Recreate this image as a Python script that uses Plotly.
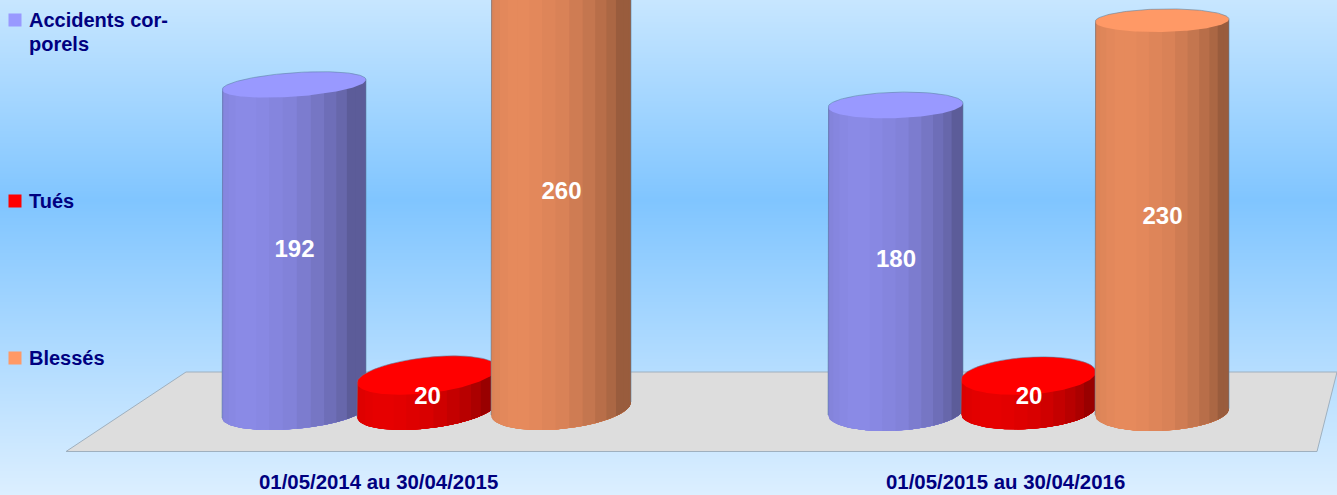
import numpy as np
import plotly.graph_objects as go

# ---- data ----
PERIODS = ["01/05/2014 au 30/04/2015", "01/05/2015 au 30/04/2016"]
SERIES = ["Accidents corporels", "Tués", "Blessés"]
LEGEND_LINES = [["Accidents cor-", "porels"], ["Tués"], ["Blessés"]]
ACCIDENTS = [192, 180]
TUES = [20, 20]
BLESSES = [260, 230]

# ---- styling ----
TOP_COLORS = [(0x99, 0x99, 0xff), (0xff, 0x00, 0x00), (0xff, 0x99, 0x66)]
FACET_SHADE = [.84, .86, .875, .89, .90, .90, .89, .87, .85, .81, .77, .72, .67, .60, .60, .60]
NAVY = "#000080"
FONT = "Liberation Sans"
W, H = 1337, 495
PX_PER_UNIT = 1.71
ZERO_PX = 418


def v(px):
    return (ZERO_PX - np.asarray(px, dtype=float)) / PX_PER_UNIT


def rgb(c, f=1.0):
    return "rgb(%d,%d,%d)" % tuple(round(x * f) for x in c)


def poly(xs, ys, color):
    return go.Scatter(x=list(xs), y=list(ys), mode="lines", fill="toself", fillcolor=color,
                      line=dict(width=0, color=color), hoverinfo="skip", showlegend=False)


# left x, right x, base-left px, top tilt, bottom tilt, top & bottom half-heights, facet phase (deg)
GEOM = {
    (0, 0): (222, 366, 418, -10, -12, 12, 17, 9),
    (1, 0): (357, 497, 417, -15, -15, 18, 19, 6),
    (2, 0): (491, 631, 415, -8, -13, 12, 20.5, 4.5),
    (0, 1): (828, 963, 415, -4, -6.6, 13, 19, 0),
    (1, 1): (961, 1096, 414, -8, -8, 18.6, 19, 1),
    (2, 1): (1095, 1229, 415, -2.5, -6.4, 11.5, 19, 0),
}
VALUES = [ACCIDENTS, TUES, BLESSES]

fig = go.Figure()

# background gradient
bg_px = np.arange(-10, H + 15, 5)
stops = [(0, "#c7e6ff"), (200 / H, "#80c5ff"), (1, "#dcefff")]
fig.add_trace(go.Heatmap(x=[-10, W + 10], y=v(bg_px).tolist(),
                         z=[[float(np.clip(p / H, 0, 1))] * 2 for p in bg_px],
                         zmin=0, zmax=1, colorscale=stops, zsmooth="best",
                         showscale=False, hoverinfo="skip"))

# floor
floor_x = [66, 186, 1337, 1317, 66]
floor_y = v([451.5, 372, 372, 451.5, 451.5])
fig.add_trace(go.Scatter(x=floor_x, y=floor_y.tolist(), mode="lines", fill="toself", fillcolor="#dddddd",
                         line=dict(width=1, color="#9fb0bf"), hoverinfo="skip", showlegend=False))


def cylinder(s, g):
    value = VALUES[s][g]
    xl, xr, base, tilt_t, tilt_b, bt, bb, phase = GEOM[(s, g)]
    color = TOP_COLORS[s]
    cx, a = (xl + xr) / 2, (xr - xl) / 2
    slope_t = tilt_t / (xr - xl)
    slope_b = tilt_b / (xr - xl)
    height_px = value * PX_PER_UNIT
    yc_bot = base + tilt_b / 2
    yc_top = base + tilt_t / 2 - height_px
    out = []

    def lower(x):
        x = np.asarray(x)
        t = (x - cx) / a
        return yc_bot + slope_b * (x - cx) + bb * np.sqrt(np.clip(1 - t * t, 0, 1))

    def mid_top(x):
        return yc_top + slope_t * (np.asarray(x) - cx)

    # facets, each painted to the right edge so that no seams appear
    n = len(FACET_SHADE)
    for i, shade in enumerate(FACET_SHADE):
        ang = 0.0 if i == 0 else np.pi * i / n - np.radians(phase)
        x0 = cx - a * np.cos(ang)
        xs = np.linspace(x0, xr, 80)
        px = np.concatenate([mid_top(xs), lower(xs)[::-1]])
        ax = np.concatenate([xs, xs[::-1]])
        out.append(poly(ax, v(px), rgb(color, shade)))

    # top ellipse
    th = np.linspace(0, 2 * np.pi, 181)
    ex = cx + a * np.cos(th)
    ey = yc_top + slope_t * (ex - cx) - bt * np.sin(th)
    out.append(poly(ex, v(ey), rgb(color)))

    # thin outline: sides and rear arc
    th2 = np.linspace(np.pi, 0, 91)
    ax = cx + a * np.cos(th2)
    ay = yc_top + slope_t * (ax - cx) - bt * np.sin(th2)
    ox = np.concatenate([[xl], ax, [xr]])
    oy = np.concatenate([[lower(xl)], ay, [lower(xr)]])
    out.append(go.Scatter(x=ox.tolist(), y=v(oy).tolist(), mode="lines",
                          line=dict(width=1, color="rgba(90,130,160,0.55)"),
                          hoverinfo="skip", showlegend=False))
    return out


for g in range(len(PERIODS)):
    for s in (0, 1, 2):
        for tr in cylinder(s, g):
            fig.add_trace(tr)

# value labels
lab_x, lab_y, lab_t = [], [], []
for g in range(len(PERIODS)):
    for s in range(len(SERIES)):
        xl, xr, *_ = GEOM[(s, g)]
        lab_x.append((xl + xr) / 2 + 0.5)
        lab_y.append(VALUES[s][g] / 2 + 1.8)
        lab_t.append(str(VALUES[s][g]))
fig.add_trace(go.Scatter(x=lab_x, y=lab_y, text=lab_t, mode="text", textposition="middle center",
                         textfont=dict(family=FONT, size=24, color="white", weight="bold"),
                         hoverinfo="skip", showlegend=False))

# legend
LEG_PX = [20, 201, 358]
fig.add_trace(go.Scatter(x=[15] * 3, y=v(LEG_PX).tolist(), mode="markers",
                         marker=dict(symbol="square", size=13, color=[rgb(c) for c in TOP_COLORS],
                                     line=dict(width=0)),
                         hoverinfo="skip", showlegend=False))
annotations = []
for lines, p in zip(LEGEND_LINES, LEG_PX):
    for k, line in enumerate(lines):
        annotations.append(dict(x=29, y=float(v(p + 23.5 * k)), text=line, xref="x", yref="y", showarrow=False,
                                xanchor="left", yanchor="middle", xshift=-2,
                                font=dict(family=FONT, size=20, color=NAVY, weight="bold")))
# period labels
for per, cx in zip(PERIODS, [378.5, 1005.5]):
    annotations.append(dict(x=cx, y=float(v(482)), text=per, xref="x", yref="y", showarrow=False,
                            xanchor="center", yanchor="middle",
                            font=dict(family=FONT, size=20.4, color=NAVY, weight="bold")))

fig.update_layout(width=W, height=H, autosize=False, margin=dict(l=0, r=0, t=0, b=0),
                  paper_bgcolor="#a8d8ff", plot_bgcolor="rgba(0,0,0,0)", showlegend=False,
                  hovermode=False, annotations=annotations,
                  xaxis=dict(range=[0, W], visible=False, fixedrange=True),
                  yaxis=dict(range=[float(v(H)), float(v(0))], visible=False, fixedrange=True))

fig.write_html("out.html", config=dict(displayModeBar=False),
               post_script="document.body.style.margin='0';document.body.style.overflow='hidden';")
